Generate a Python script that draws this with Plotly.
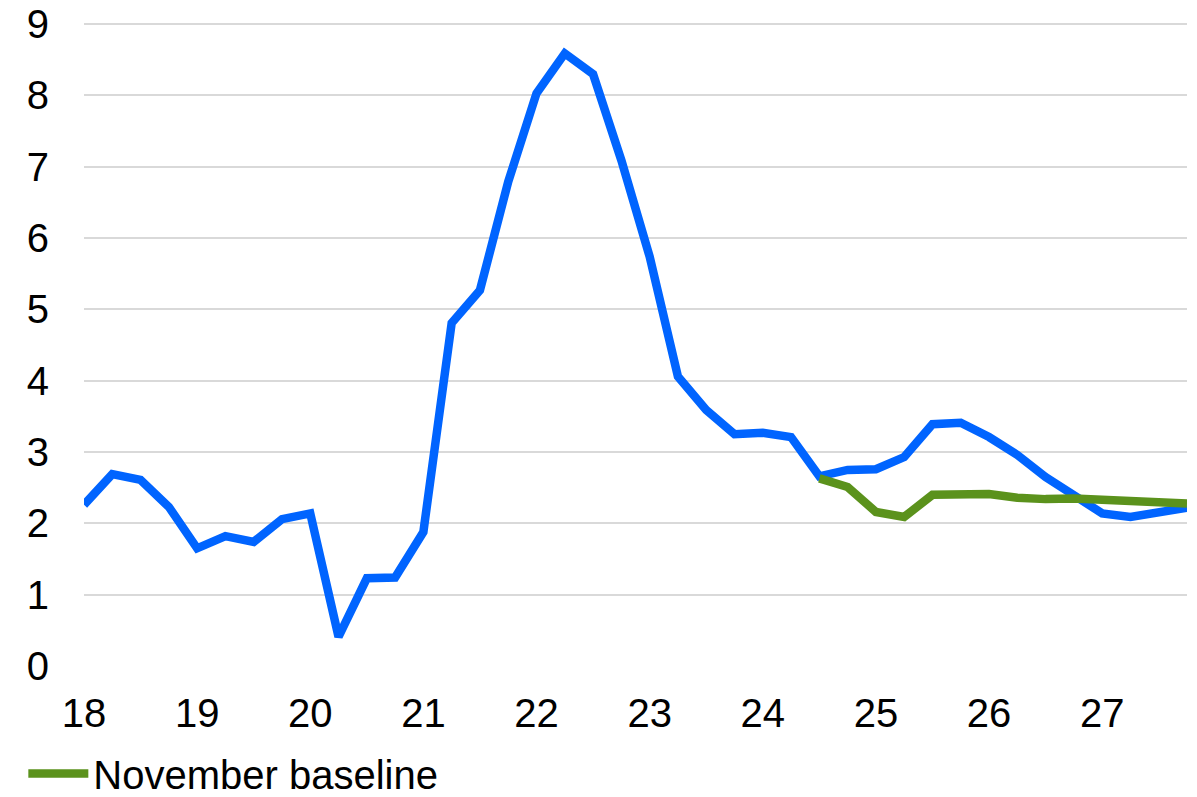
import plotly.graph_objects as go

quarters = list(range(40))  # 2018Q1 .. 2027Q4
year_ticks = [0, 4, 8, 12, 16, 20, 24, 28, 32, 36]
year_labels = ["18", "19", "20", "21", "22", "23", "24", "25", "26", "27"]

actual = [2.26, 2.69, 2.61, 2.23, 1.65, 1.82, 1.74, 2.06, 2.14, 0.41,
          1.23, 1.24, 1.88, 4.81, 5.27, 6.79, 8.03, 8.59, 8.30, 7.09,
          5.74, 4.06, 3.59, 3.25, 3.27, 3.21, 2.66, 2.75, 2.76, 2.93,
          3.39, 3.41, 3.21, 2.96, 2.65, 2.38, 2.14, 2.09, 2.14, 2.22]

baseline_x = list(range(26, 40))
baseline = [2.63, 2.51, 2.16, 2.09, 2.40, 2.40, 2.41, 2.36, 2.34, 2.35,
            2.33, 2.31, 2.30, 2.28]

fig = go.Figure()
fig.add_trace(go.Scatter(x=quarters, y=actual, mode="lines", name="Actual",
                         line=dict(color="#0064FF", width=8.5), showlegend=False))
fig.add_trace(go.Scatter(x=baseline_x, y=baseline, mode="lines", name="November baseline",
                         line=dict(color="#5B921C", width=8.5)))

fig.update_layout(
    width=1197, height=797,
    margin=dict(l=84, r=10, t=22, b=131, autoexpand=False),
    paper_bgcolor="white", plot_bgcolor="white",
    font=dict(family="Liberation Sans, Arial, sans-serif", size=40, color="black"),
    xaxis=dict(range=[0, 39], tickvals=year_ticks, ticktext=year_labels,
               showgrid=False, zeroline=False, showline=False, ticks="",
               ticklabelstandoff=20, automargin=False),
    yaxis=dict(range=[0, 9.03], tickvals=list(range(10)), showgrid=True,
               gridcolor="#d9d9d9", gridwidth=2, zeroline=False, showline=False,
               ticks="", ticklabelstandoff=34, automargin=False,
               ticklabeloverflow="allow"),
    legend=dict(orientation="h", x=-0.055, xanchor="left", y=-0.167, yanchor="middle",
                itemwidth=60, font=dict(size=40), bgcolor="rgba(0,0,0,0)"),
    showlegend=True,
)

# remove the browser's default 8px body margin so the figure sits at the page origin
fig.write_html("out.html", config={"displayModeBar": False},
               post_script="document.body.style.margin='0';document.body.style.overflow='hidden';")
